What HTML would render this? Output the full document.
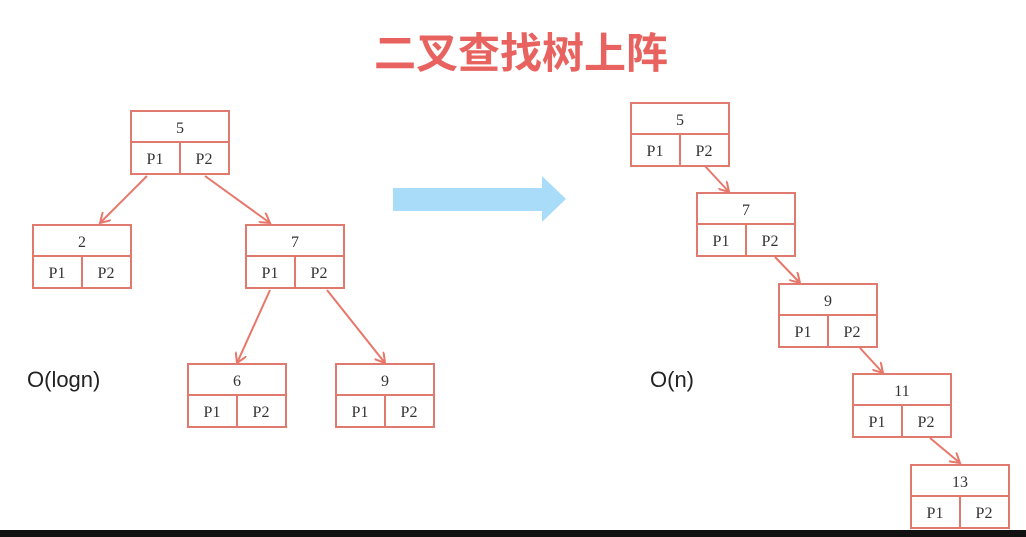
<!DOCTYPE html>
<html><head><style>
body{margin:0;width:1026px;height:537px;background:#fff;overflow:hidden;position:relative;font-family:"Liberation Serif",serif}
.t{position:absolute;left:0;width:1042px;top:20px;text-align:center;font:bold 42px "Liberation Sans","Noto Sans CJK SC",sans-serif;color:#e8625f;letter-spacing:0px}
.o{position:absolute;font:22px "Liberation Sans",sans-serif;color:#222}
</style></head><body>
<div class="t">二叉查找树上阵</div>
<div class="o" style="left:27px;top:367px">O(logn)</div>
<div class="o" style="left:650px;top:367px">O(n)</div>
<svg width="1026" height="537" style="position:absolute;left:0;top:0">
<defs><marker id="a" markerWidth="12" markerHeight="12" refX="10" refY="6" orient="auto" markerUnits="userSpaceOnUse"><path d="M0,0 L10,6 L0,12" fill="none" stroke="#e8776a" stroke-width="2"/></marker>
<g id="n"><rect x="0" y="0" width="98" height="63" fill="#fff" stroke="#e07a6e" stroke-width="2"/><line x1="0" y1="31" x2="98" y2="31" stroke="#e07a6e" stroke-width="2"/><line x1="49" y1="31" x2="49" y2="63" stroke="#e07a6e" stroke-width="2"/><text x="24" y="53" font-size="16" text-anchor="middle" fill="#333" font-family="Liberation Serif">P1</text><text x="73" y="53" font-size="16" text-anchor="middle" fill="#333" font-family="Liberation Serif">P2</text></g></defs>
<g stroke="#e8776a" stroke-width="2" marker-end="url(#a)">
<line x1="147" y1="176" x2="100" y2="223"/><line x1="205" y1="176" x2="270" y2="223"/>
<line x1="270" y1="290" x2="237" y2="363"/><line x1="327" y1="290" x2="385" y2="363"/>
<line x1="705" y1="166" x2="729" y2="192"/><line x1="775" y1="257" x2="800" y2="283"/>
<line x1="860" y1="348" x2="883" y2="373"/><line x1="930" y1="438" x2="960" y2="463"/>
</g>
<path d="M393,188 H542 V176 L566,199 L542,222 V211 H393 Z" fill="#a9dcf8"/>
<g font-size="16" text-anchor="middle" fill="#333" font-family="Liberation Serif">
<use href="#n" x="131" y="111"/><text x="180" y="133">5</text>
<use href="#n" x="33" y="225"/><text x="82" y="247">2</text>
<use href="#n" x="246" y="225"/><text x="295" y="247">7</text>
<use href="#n" x="188" y="364"/><text x="237" y="386">6</text>
<use href="#n" x="336" y="364"/><text x="385" y="386">9</text>
<use href="#n" x="631" y="103"/><text x="680" y="125">5</text>
<use href="#n" x="697" y="193"/><text x="746" y="215">7</text>
<use href="#n" x="779" y="284"/><text x="828" y="306">9</text>
<use href="#n" x="853" y="374"/><text x="902" y="396">11</text>
<use href="#n" x="911" y="465"/><text x="960" y="487">13</text>
</g>
<rect x="0" y="530" width="1026" height="7" fill="#111"/>
</svg>
</body></html>
